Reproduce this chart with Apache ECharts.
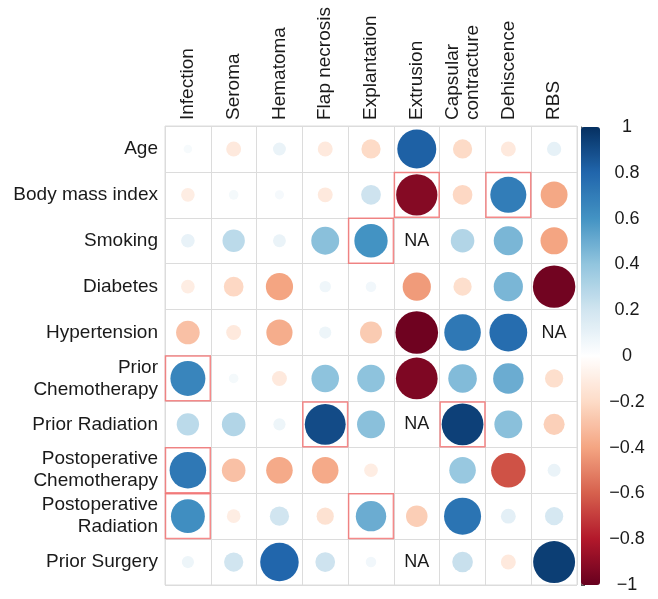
<!DOCTYPE html>
<html>
<head>
<meta charset="utf-8">
<script src="https://cdn.jsdelivr.net/npm/echarts@6/dist/echarts.min.js"></script>
<style>
  html, body { margin: 0; padding: 0; background: #fff; }
  #chart { width: 658px; height: 599px; }
</style>
</head>
<body>
<div id="chart"></div>
<script>
// 行：危险因素
const rows = ["Age", "Body mass index", "Smoking", "Diabetes", "Hypertension",
  "Prior\nChemotherapy", "Prior Radiation", "Postoperative\nChemotherapy",
  "Postoperative\nRadiation", "Prior Surgery"];
// 列：并发症
const cols = ["Infection", "Seroma", "Hematoma", "Flap necrosis", "Explantation",
  "Extrusion", "Capsular\ncontracture", "Dehiscence", "RBS"];

// 相关系数 (null = NA)
const corr = [
  [ 0.04, -0.12,  0.09, -0.12, -0.20,  0.82, -0.20, -0.12,  0.11],
  [-0.10,  0.05,  0.045,-0.12,  0.21, -0.92, -0.21,  0.70, -0.39],
  [ 0.10,  0.27,  0.09,  0.42,  0.60,  null,  0.30,  0.46, -0.40],
  [-0.10, -0.21, -0.40,  0.07,  0.06, -0.43, -0.18,  0.46, -0.97],
  [-0.30, -0.12, -0.37,  0.08, -0.26, -0.98,  0.72,  0.77,  null],
  [ 0.66,  0.05, -0.12,  0.41,  0.41, -0.94,  0.44,  0.50, -0.18],
  [ 0.27,  0.30,  0.08,  0.90,  0.42,  null,  0.94,  0.42, -0.24],
  [ 0.72, -0.30, -0.38, -0.38, -0.10,  0,     0.38, -0.64,  0.09],
  [ 0.62, -0.10,  0.20, -0.16,  0.50, -0.25,  0.74,  0.12,  0.18],
  [ 0.08,  0.20,  0.80,  0.21,  0.06,  null,  0.23, -0.12,  0.95]
];

// 显著性标记 [列, 行]
const sigCells = [[5, 1], [7, 1], [4, 2], [0, 5], [3, 6], [6, 6], [0, 7], [0, 8], [4, 8]];

// 颜色条刻度
const barTicks = { min: -1, max: 1, step: 0.2 };

const palette = ["#67001F", "#B2182B", "#D6604D", "#F4A582", "#FDDBC7", "#FFFFFF",
  "#D1E5F0", "#92C5DE", "#4393C3", "#2166AC", "#053061"];

const circleData = [];
const naData = [];
corr.forEach(function (row, ri) {
  row.forEach(function (v, ci) {
    if (v === null) naData.push([ci, ri]);
    else circleData.push([ci, ri, v]);
  });
});

const cell = 45.8;
const font = "'Liberation Sans', Arial, sans-serif";

const chart = echarts.init(document.getElementById("chart"));
chart.setOption({
  animation: false,
  textStyle: { fontFamily: font },
  grid: [
    { left: 165, top: 126, width: 412, height: 459, show: true, borderColor: "#dcdcdc", borderWidth: 1 },
    { left: 581, top: 127, width: 19, height: 458 }
  ],
  xAxis: [
    {
      type: "category", data: cols, position: "top", gridIndex: 0,
      axisLine: { show: false }, axisTick: { show: false },
      axisLabel: { rotate: -90, margin: 6, fontSize: 19, color: "#1a1a1a", lineHeight: 20, interval: 0 },
      splitLine: { show: true, interval: 0, lineStyle: { color: "#dcdcdc", width: 1 } }
    },
    { type: "value", gridIndex: 1, show: false, min: 0, max: 1 }
  ],
  yAxis: [
    {
      type: "category", data: rows, inverse: true, gridIndex: 0,
      axisLine: { show: false }, axisTick: { show: false },
      axisLabel: { margin: 7, fontSize: 19, color: "#1a1a1a", lineHeight: 22, interval: 0, align: "right" },
      splitLine: { show: true, interval: 0, lineStyle: { color: "#dcdcdc", width: 1 } }
    },
    {
      type: "value", gridIndex: 1, position: "right",
      min: barTicks.min, max: barTicks.max, interval: barTicks.step,
      axisLine: { show: true, lineStyle: { color: "#555", width: 1 } },
      axisTick: { show: true, length: 4, lineStyle: { color: "#555" } },
      splitLine: { show: false },
      axisLabel: {
        margin: 27, align: "center", fontSize: 18, color: "#1a1a1a",
        formatter: function (v) {
          return (Math.round(v * 10) / 10).toString().replace("-", "\u2212");
        }
      }
    }
  ],
  visualMap: {
    type: "continuous", min: -1, max: 1, dimension: 2, seriesIndex: 0,
    left: 581, top: 127, itemWidth: 19, itemHeight: 458, padding: 0,
    calculable: false, hoverLink: false, text: null,
    inRange: { color: palette }
  },
  series: [
    {
      type: "scatter", xAxisIndex: 0, yAxisIndex: 0,
      data: circleData,
      symbol: "circle",
      symbolSize: function (d) { return cell * 0.94 * Math.sqrt(Math.abs(d[2])); },
      itemStyle: { opacity: 1 },
      z: 3
    },
    {
      type: "scatter", xAxisIndex: 0, yAxisIndex: 0,
      data: sigCells,
      symbol: "rect", symbolSize: [cell - 1, cell - 1],
      itemStyle: { color: "rgba(0,0,0,0)", borderColor: "#f26d6d", borderWidth: 1.5 },
      z: 4
    },
    {
      type: "scatter", xAxisIndex: 0, yAxisIndex: 0,
      data: naData, symbolSize: 0,
      itemStyle: { opacity: 1 },
      label: { show: true, position: "inside", formatter: "NA", fontSize: 18, color: "#1a1a1a", opacity: 1 },
      z: 5
    },
    { type: "scatter", xAxisIndex: 1, yAxisIndex: 1, data: [] }
  ]
});
</script>
</body>
</html>
